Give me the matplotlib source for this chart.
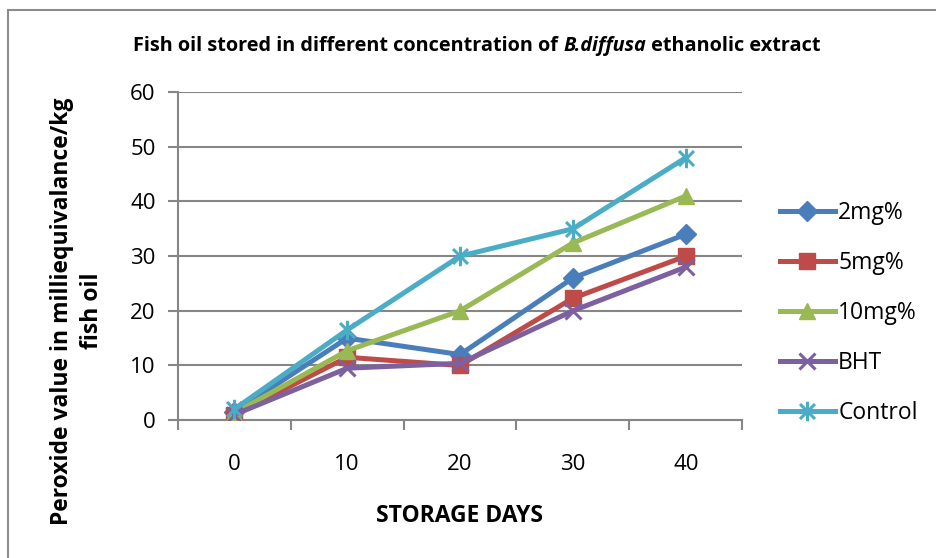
import numpy as np
import matplotlib
matplotlib.use("Agg")
import matplotlib.pyplot as plt
from matplotlib.path import Path
from matplotlib.patches import Rectangle

# data
days = ["0", "10", "20", "30", "40"]
mg2 = [1.5, 15, 12, 26, 34]
mg5 = [1, 11.5, 10, 22.3, 30]
mg10 = [1.3, 12.7, 20, 32.4, 41]
bht = [1, 9.5, 10.4, 20, 28]
control = [2, 16.5, 30, 35, 48]

series = [("2mg%", mg2, "#4A7EBB", "D", 10),
          ("5mg%", mg5, "#BE4B48", "s", 11),
          ("10mg%", mg10, "#98B954", "^", 12),
          ("BHT", bht, "#7D60A0", "x", 11),
          ("Control", control, "#4BACC6", None, 14)]

# Excel-style star marker: X plus vertical stroke
star = Path([(-1, -1), (1, 1), (-1, 1), (1, -1), (0, -1.3), (0, 1.3)],
            [Path.MOVETO, Path.LINETO, Path.MOVETO, Path.LINETO, Path.MOVETO, Path.LINETO])

plt.rcParams['font.family'] = ['Open Sans', 'DejaVu Sans']

W, H = 936, 558
fig = plt.figure(figsize=(W / 100, H / 100), dpi=100)
ax = fig.add_axes([0.190, 0.247, 0.603, 0.588])

# chart border
fig.patches.append(Rectangle((8 / W, -0.1), 1.1, 1.1 - 10 / H,
                             transform=fig.transFigure, fill=False,
                             edgecolor="#8c8c8c", linewidth=1.5))

x = np.arange(len(days))
for name, vals, col, mk, ms in series:
    m = star if mk is None else mk
    ax.plot(x, vals, color=col, linewidth=3.6, marker=m, markersize=ms,
            markeredgewidth=2.2 if mk in (None, "x") else 1,
            markeredgecolor=col, markerfacecolor=col, label=name, zorder=3)

ax.set_xlim(-0.5, 4.5)
ax.set_ylim(0, 60)
ax.set_yticks(range(0, 61, 10))
ax.set_xticks(x)
ax.set_xticklabels(days)
ax.set_xticks(np.arange(-0.5, 4.6, 1), minor=True)
ax.tick_params(axis="x", which="major", length=0, labelsize=16, pad=24)
ax.tick_params(axis="x", which="minor", length=7, width=1.5, color="#868686")
ax.tick_params(axis="y", length=7, width=1.5, color="#868686", labelsize=16, pad=9)
ax.grid(axis="y", color="#868686", linewidth=1.5, zorder=0)
for s in ["top", "right"]:
    ax.spines[s].set_visible(False)
for s in ["left", "bottom"]:
    ax.spines[s].set_color("#868686")
    ax.spines[s].set_linewidth(1.5)

# title in three pieces so the species name can be bold italic
parts = [("Fish oil stored in different concentration of ", "normal"),
         ("B.diffusa", "italic"),
         (" ethanolic extract", "normal")]
texts = [fig.text(0, 1 - 46 / H, p, fontsize=14.3, fontweight="bold", fontstyle=st,
                  va="center", ha="left") for p, st in parts]
fig.canvas.draw()
r = fig.canvas.get_renderer()
widths = [t.get_window_extent(r).width for t in texts]
xpos = 477 - sum(widths) / 2
for t, w in zip(texts, widths):
    t.set_x(xpos / W)
    xpos += w

fig.text(460 / W, 1 - 516 / H, "STORAGE DAYS", fontsize=16.5, fontweight="bold",
         ha="center", va="center")
fig.text(77 / W, 1 - 311 / H, "Peroxide value in milliequivalance/kg\nfish oil",
         fontsize=16.5, fontweight="bold", rotation=90, ha="center", va="center",
         multialignment="center", linespacing=1.35)

leg = ax.legend(loc="center left", bbox_to_anchor=(1.03, 0.326), frameon=False,
                fontsize=16.5, handlelength=2.4, labelspacing=1.14, handletextpad=0.15)

fig.savefig("out.png", dpi=100)
